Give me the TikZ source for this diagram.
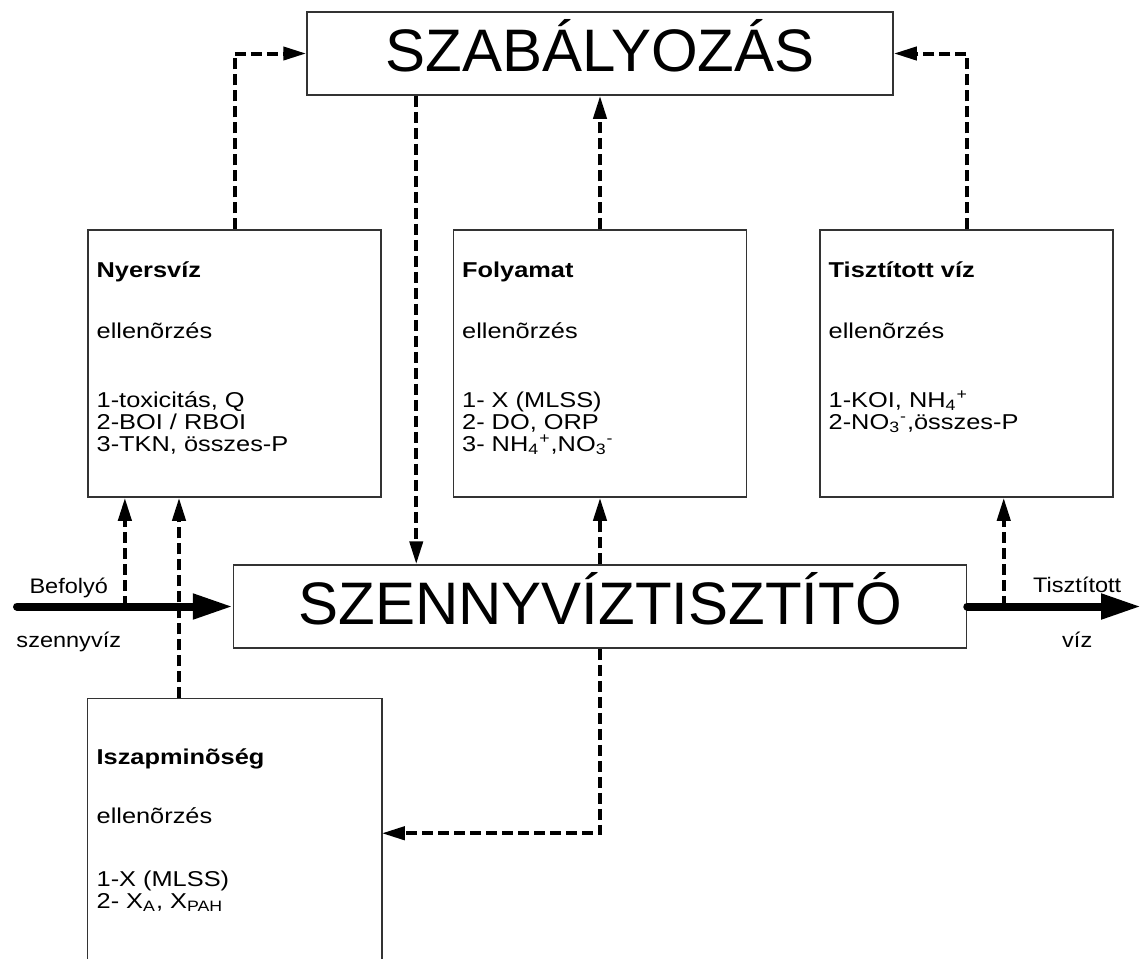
\documentclass[tikz,border=0pt]{standalone}
\usepackage{fontspec}
\setmainfont{Liberation Sans}
\newfontfamily\panelfont[FakeStretch=1.18]{Liberation Sans}
\newfontfamily\labelfont[FakeStretch=1.12]{Liberation Sans}
\usetikzlibrary{arrows.meta,positioning}

\begin{document}
\begin{tikzpicture}[
    x=0.5pt,y=-0.5pt,
    box/.style={draw=black!80,line width=0.75pt,inner sep=0pt},
    bigbox/.style={box,minimum height=41.5pt,font=\fontsize{30}{36}\selectfont,
        text height=21.5pt,text depth=3.5pt},
    panel/.style={box,minimum width=146.5pt,minimum height=133.5pt},
    paneltext/.style={anchor=north west,align=left,inner sep=0pt,
        font=\panelfont\fontsize{10.75}{11}\selectfont},
    lbl/.style={anchor=base,inner sep=0pt,font=\labelfont\fontsize{10.5}{12}\selectfont},
    ctrl/.style={-{Triangle[length=11.5pt,width=6.5pt]},line width=2pt,
        dash pattern=on 5.5pt off 2.5pt},
    flow/.style={-{Triangle[length=20pt,width=12pt]},line width=4pt,line cap=round}
]
\useasboundingbox (0,0) rectangle (1141,965);

\node[bigbox,minimum width=293pt] (reg) at (600,53.5) {SZABÁLYOZÁS};
\node[bigbox,minimum width=366.5pt] (plant) at (600,606.5) {SZENNYVÍZTISZTÍTÓ};

\node[panel] (raw) at (234.5,363.5) {};
\node[panel] (proc) at (600,363.5) {};
\node[panel] (eff) at (966.5,363.5) {};
\node[panel,draw=none,minimum height=129.5pt] (sludge) at (234.5,828.5) {};
\draw[box] (sludge.south west) -- (sludge.north west) -- (sludge.north east)
    -- (sludge.south east);

\node[paneltext] (rawtxt) at ([shift={(4.5pt,-14.5pt)}]raw.north west)
    {\rule{0pt}{9.5pt}\textbf{Nyersvíz}\\[19.5pt]ellenõrzés\\[23.5pt]1-toxicitás, Q\\2-BOI / RBOI\\
     3-TKN, összes-P};
\node[paneltext] (proctxt) at ([shift={(4.5pt,-14.5pt)}]proc.north west)
    {\rule{0pt}{9.5pt}\textbf{Folyamat}\\[19.5pt]ellenõrzés\\[23.5pt]1- X (MLSS)\\2- DO, ORP\\
     3- NH\textsubscript{4}\textsuperscript{+},NO\textsubscript{3}\textsuperscript{-}};
\node[paneltext] (efftxt) at ([shift={(4.5pt,-14.5pt)}]eff.north west)
    {\rule{0pt}{9.5pt}\textbf{Tisztított víz}\\[19.5pt]ellenõrzés\\[23.5pt]1-KOI, NH\textsubscript{4}\textsuperscript{+}\\
     2-NO\textsubscript{3}\textsuperscript{-},összes-P};
\node[paneltext] (sludgetxt) at ([shift={(4.5pt,-23.5pt)}]sludge.north west)
    {\rule{0pt}{9.5pt}\textbf{Iszapminõség}\\[18.5pt]ellenõrzés\\[20.5pt]1-X (MLSS)\\
     2- X\textsubscript{A}, X\textsubscript{PAH}};

\coordinate (inlet) at (17,606.5);
\coordinate (outlet) at (1141,606.5);
\draw[flow] (inlet) -- coordinate[pos=0.5] (tapin)
    node[lbl,pos=0.24,yshift=6.5pt] {Befolyó}
    node[lbl,pos=0.24,yshift=-20.5pt] {szennyvíz} (plant.west);
\draw[flow] (plant.east) -- coordinate[pos=0.21] (tapout)
    node[lbl,pos=0.633,yshift=7pt] {Tisztított}
    node[lbl,pos=0.633,yshift=-20.5pt] {víz} (outlet);

\coordinate (regout) at ([xshift=55pt]reg.south west);
\coordinate (sludgeout) at ([xshift=-27.75pt]sludge.north);
\draw[ctrl] (raw.north) |- (reg.west);
\draw[ctrl] (eff.north) |- (reg.east);
\draw[ctrl] (proc.north) -- (reg.south);
\draw[ctrl] (regout) -- (regout |- plant.north);
\draw[ctrl] (plant.north) -- (proc.south);
\draw[ctrl] (plant.south) |- ([yshift=-67.5pt]sludge.north east);
\draw[ctrl] (tapin) -- (tapin |- raw.south);
\draw[ctrl] (sludgeout) -- (sludgeout |- raw.south);
\draw[ctrl] (tapout) -- (tapout |- eff.south);
\end{tikzpicture}
\end{document}
